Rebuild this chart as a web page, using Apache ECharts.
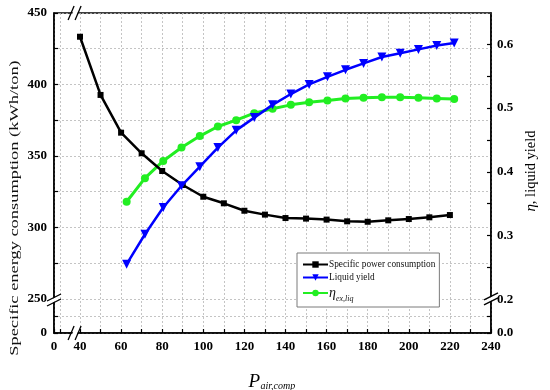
<!DOCTYPE html>
<html><head><meta charset="utf-8">
<script src="https://cdn.jsdelivr.net/npm/echarts@6/dist/echarts.min.js"></script>
<style>html,body{margin:0;padding:0;background:#fff}#c{width:550px;height:390px}</style>
</head><body><div id="c"></div>
<script>
// ---- data ----
const powerX = [40,50,60,70,80,90,100,110,120,130,140,150,160,170,180,190,200,210,220];
const specificPower = [433.4,392.7,366.3,351.9,339.5,329.7,321.5,316.9,311.7,309.0,306.6,306.2,305.5,304.3,304.0,305.0,305.9,307.1,308.7];
const yieldX = [62.7,71.6,80.5,89.4,98.3,107.1,116.0,124.8,133.7,142.6,151.5,160.4,169.2,178.0,186.9,195.8,204.7,213.6,222.1];
const liquidYield = [0.255,0.302,0.344,0.378,0.408,0.438,0.465,0.485,0.505,0.522,0.537,0.549,0.560,0.570,0.580,0.586,0.592,0.598,0.602];
const etaExLiq = [0.353,0.390,0.417,0.438,0.456,0.471,0.481,0.492,0.499,0.505,0.509,0.512,0.515,0.516,0.517,0.517,0.516,0.515,0.514];
const xTickLabels = [0,40,60,80,100,120,140,160,180,200,220,240];
const xMinorTicks = [10,50,70,90,110,130,150,170,190,210,230];
const leftTickLabels = [0,250,300,350,400,450];
const leftMinorTicks = [125,275,325,375,425];
const rightTickLabels = [0.0,0.2,0.3,0.4,0.5,0.6];
const rightMinorTicks = [0.1,0.25,0.35,0.45,0.55];
const seriesNames = ['Specific power consumption','Liquid yield','eta_ex_liq'];

// ---- broken-axis mapping (values below the break are drawn in a short strip) ----
const X_BREAK = 40, X_ZERO = 27.35, X_MAX = 240;
const YL_BREAK = 250, YL_ZERO = 226.2, YL_MAX = 450;
const YR_BREAK = 0.2, YR_ZERO = 0.1471, YR_MAX = 0.6491;
const mapX = v => v >= X_BREAK ? v : X_ZERO + (X_BREAK - X_ZERO) * v / X_BREAK;
const mapYL = v => v >= YL_BREAK ? v : YL_ZERO + (YL_BREAK - YL_ZERO) * v / YL_BREAK;
const mapYR = v => v >= YR_BREAK ? v : YR_ZERO + (YR_BREAK - YR_ZERO) * v / YR_BREAK;

const FONT = 'Liberation Serif';
const GRID_LINE = {show:true, lineStyle:{color:'#b5b5b5', type:[2,2], width:0.8}};
const labelStyle = {fontFamily:FONT, fontWeight:'bold', fontSize:13, color:'#000'};

const chart = echarts.init(document.getElementById('c'), null, {renderer:'canvas'});
chart.setOption({
  animation:false,
  backgroundColor:'#fff',
  grid:{left:54, right:59, top:13, bottom:57, show:true, borderColor:'#000', borderWidth:1.5, containLabel:false},
  xAxis:{
    type:'value', min:X_ZERO, max:X_MAX,
    axisLine:{show:true, lineStyle:{color:'#000', width:1.5}},
    axisTick:{show:true, inside:true, length:4, lineStyle:{color:'#000', width:1.2},
      customValues:xTickLabels.concat(xMinorTicks).map(mapX).sort((a,b)=>a-b)},
    axisLabel:{...labelStyle, margin:7, customValues:xTickLabels.map(mapX),
      formatter:v => v < X_BREAK - 0.5 ? '0' : String(Math.round(v))},
    splitLine:GRID_LINE
  },
  yAxis:[{
    type:'value', min:YL_ZERO, max:YL_MAX, position:'left',
    axisLine:{show:true, lineStyle:{color:'#000', width:1.5}},
    axisTick:{show:true, inside:true, length:4, lineStyle:{color:'#000', width:1.2},
      customValues:leftTickLabels.concat(leftMinorTicks).map(mapYL).sort((a,b)=>a-b)},
    axisLabel:{...labelStyle, margin:7, customValues:leftTickLabels.map(mapYL),
      formatter:v => v < YL_BREAK - 0.5 ? '0' : String(Math.round(v))},
    splitLine:GRID_LINE
  },{
    type:'value', min:YR_ZERO, max:YR_MAX, position:'right',
    axisLine:{show:true, lineStyle:{color:'#000', width:1.5}},
    axisTick:{show:true, inside:true, length:4, lineStyle:{color:'#000', width:1.2},
      customValues:rightTickLabels.concat(rightMinorTicks).map(mapYR).sort((a,b)=>a-b)},
    axisLabel:{...labelStyle, margin:6, customValues:rightTickLabels.map(mapYR),
      formatter:v => v < YR_BREAK - 0.005 ? '0.0' : v.toFixed(1)},
    splitLine:{show:false}
  }],
  legend:{
    orient:'vertical', left:297, top:253,
    padding:[7,4,4,5], itemGap:4, itemWidth:25, itemHeight:8,
    borderColor:'#7a7a7a', borderWidth:1, backgroundColor:'#fff',
    data:seriesNames,
    textStyle:{fontFamily:FONT, fontSize:9.3, color:'#111', padding:[0,0,0,-4],
      rich:{eta:{fontFamily:FONT, fontSize:14, fontStyle:'italic', color:'#111', lineHeight:20},
            sub:{fontFamily:FONT, fontSize:8, fontStyle:'italic', color:'#111', verticalAlign:'bottom', lineHeight:16}}},
    formatter:n => n === seriesNames[2] ? '{eta|η}{sub|ex,liq}' : n
  },
  series:[{
    name:seriesNames[0], type:'line', xAxisIndex:0, yAxisIndex:0,
    data:powerX.map((x,i)=>[mapX(x), mapYL(specificPower[i])]),
    symbol:'rect', symbolSize:6, z:3,
    lineStyle:{color:'#000', width:2.5}, itemStyle:{color:'#000'}
  },{
    name:seriesNames[1], type:'line', xAxisIndex:0, yAxisIndex:1,
    data:yieldX.map((x,i)=>[mapX(x), mapYR(liquidYield[i])]),
    symbol:'triangle', symbolRotate:180, symbolSize:9, z:4,
    lineStyle:{color:'#0000ff', width:2.5}, itemStyle:{color:'#0000ff'}
  },{
    name:seriesNames[2], type:'line', xAxisIndex:0, yAxisIndex:1,
    data:yieldX.map((x,i)=>[mapX(x), mapYR(etaExLiq[i])]),
    symbol:'circle', symbolSize:8, z:2,
    lineStyle:{color:'#22ee22', width:3}, itemStyle:{color:'#22ee22'}
  }]
});

// ---- decorations: axis titles and break marks, positioned through the axes ----
const px = v => chart.convertToPixel({xAxisIndex:0}, v);
const pyl = v => chart.convertToPixel({yAxisIndex:0}, v);
const pyr = v => chart.convertToPixel({yAxisIndex:1}, v);
const xL = px(X_ZERO), xR = px(X_MAX), yT = pyl(YL_MAX), yB = pyl(YL_ZERO);
const xBrk = px(38.1), ylBrk = pyl(248.6), yrBrk = pyr(0.199);

function hBreak(cx, cy){ // break on a horizontal axis line
  return [
    {type:'polygon', shape:{points:[[cx-6,cy+6],[cx-1,cy-6],[cx+4,cy-6],[cx-1,cy+6]]}, style:{fill:'#fff'}, z:100},
    {type:'line', shape:{x1:cx-8,y1:cy+7,x2:cx-2,y2:cy-7}, style:{stroke:'#000', lineWidth:1.3}, z:101},
    {type:'line', shape:{x1:cx-1,y1:cy+7,x2:cx+5,y2:cy-7}, style:{stroke:'#000', lineWidth:1.3}, z:101}
  ];
}
function vBreak(cx, cy){ // break on a vertical axis line
  return [
    {type:'polygon', shape:{points:[[cx-4,cy+3],[cx+4,cy-1],[cx+4,cy-5],[cx-4,cy-1]]}, style:{fill:'#fff'}, z:100},
    {type:'line', shape:{x1:cx-7,y1:cy+5,x2:cx+7,y2:cy-2}, style:{stroke:'#000', lineWidth:1.3}, z:101},
    {type:'line', shape:{x1:cx-7,y1:cy,x2:cx+7,y2:cy-7}, style:{stroke:'#000', lineWidth:1.3}, z:101}
  ];
}

chart.setOption({graphic:[
  ...hBreak(xBrk, yB), ...hBreak(xBrk, yT), ...vBreak(xL, ylBrk), ...vBreak(xR, yrBrk),
  {type:'text', x:15, y:(yT+yB)/2+35, rotation:Math.PI/2, scaleX:1.45, z:50,
   style:{text:'Specific energy consumption (kWh/ton)', fontFamily:FONT, fontSize:12.7, fill:'#111', align:'center', verticalAlign:'middle'}},
  {type:'text', x:531, y:(yT+yB)/2 - 2, rotation:Math.PI/2, z:50,
   style:{text:'{e|η}{t|, liquid yield}', align:'center', verticalAlign:'middle', fill:'#000',
     rich:{e:{fontFamily:FONT, fontSize:15, fontStyle:'italic', fill:'#000'}, t:{fontFamily:FONT, fontSize:14.5, fill:'#000'}}}},
  {type:'text', x:(xL+xR)/2 - 24, y:382, z:50,
   style:{text:'P', fontFamily:FONT, fontSize:19, fontStyle:'italic', fill:'#000', align:'left', verticalAlign:'middle'}},
  {type:'text', x:(xL+xR)/2 - 12, y:386, z:50,
   style:{text:'air,comp', fontFamily:FONT, fontSize:10, fontStyle:'italic', fill:'#000', align:'left', verticalAlign:'middle'}}
]});
</script></body></html>
